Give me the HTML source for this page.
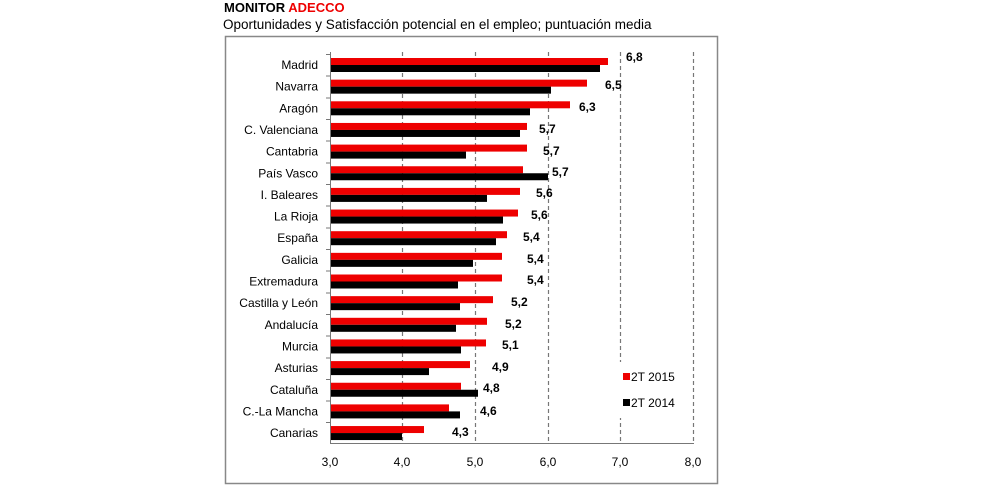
<!DOCTYPE html>
<html><head><meta charset="utf-8"><style>
body{margin:0;background:#fff;width:981px;height:492px;overflow:hidden}
svg{font-family:"Liberation Sans",Arial,sans-serif}
</style></head><body>
<svg width="981" height="492" xmlns="http://www.w3.org/2000/svg">
<text x="224" y="12" font-size="13" font-weight="bold" fill="#000">MONITOR <tspan fill="#e00">ADECCO</tspan></text>
<text x="223" y="29" font-size="13.5" fill="#000">Oportunidades y Satisfacción potencial en el empleo; puntuación media</text>
<rect x="225.5" y="36.5" width="492" height="447" fill="none" stroke="#888" stroke-width="1.5"/>
<g stroke="#777" stroke-dasharray="4,3" stroke-width="1.2">
<line x1="402.5" y1="52" x2="402.5" y2="443"/>
<line x1="475.5" y1="52" x2="475.5" y2="443"/>
<line x1="548.5" y1="52" x2="548.5" y2="443"/>
<line x1="620.5" y1="52" x2="620.5" y2="443"/>
<line x1="693.5" y1="52" x2="693.5" y2="443"/>
</g>
<g fill="#e00">
<rect x="331" y="58" width="277" height="7"/>
<rect x="331" y="79.65" width="256" height="7"/>
<rect x="331" y="101.3" width="239" height="7"/>
<rect x="331" y="122.95" width="196" height="7"/>
<rect x="331" y="144.6" width="196" height="7"/>
<rect x="331" y="166.25" width="192" height="7"/>
<rect x="331" y="187.9" width="189" height="7"/>
<rect x="331" y="209.55" width="187" height="7"/>
<rect x="331" y="231.2" width="176" height="7"/>
<rect x="331" y="252.85" width="171" height="7"/>
<rect x="331" y="274.5" width="171" height="7"/>
<rect x="331" y="296.15" width="162" height="7"/>
<rect x="331" y="317.8" width="156" height="7"/>
<rect x="331" y="339.45" width="155" height="7"/>
<rect x="331" y="361.1" width="139" height="7"/>
<rect x="331" y="382.75" width="130" height="7"/>
<rect x="331" y="404.4" width="118" height="7"/>
<rect x="331" y="426.05" width="93" height="7"/>
</g>
<g fill="#000">
<rect x="331" y="65" width="269" height="7"/>
<rect x="331" y="86.65" width="220" height="7"/>
<rect x="331" y="108.3" width="199" height="7"/>
<rect x="331" y="129.95" width="189" height="7"/>
<rect x="331" y="151.6" width="135" height="7"/>
<rect x="331" y="173.25" width="217" height="7"/>
<rect x="331" y="194.9" width="156" height="7"/>
<rect x="331" y="216.55" width="172" height="7"/>
<rect x="331" y="238.2" width="165" height="7"/>
<rect x="331" y="259.85" width="142" height="7"/>
<rect x="331" y="281.5" width="127" height="7"/>
<rect x="331" y="303.15" width="129" height="7"/>
<rect x="331" y="324.8" width="125" height="7"/>
<rect x="331" y="346.45" width="130" height="7"/>
<rect x="331" y="368.1" width="98" height="7"/>
<rect x="331" y="389.75" width="147" height="7"/>
<rect x="331" y="411.4" width="129" height="7"/>
<rect x="331" y="433.05" width="71" height="7"/>
</g>
<g stroke="#777">
<line x1="326" x2="331" y1="54.5" y2="54.5"/><line x1="326" x2="331" y1="76" y2="76"/><line x1="326" x2="331" y1="98" y2="98"/><line x1="326" x2="331" y1="119.5" y2="119.5"/><line x1="326" x2="331" y1="141" y2="141"/><line x1="326" x2="331" y1="163" y2="163"/><line x1="326" x2="331" y1="184.5" y2="184.5"/><line x1="326" x2="331" y1="206" y2="206"/><line x1="326" x2="331" y1="228" y2="228"/><line x1="326" x2="331" y1="249.5" y2="249.5"/><line x1="326" x2="331" y1="271" y2="271"/><line x1="326" x2="331" y1="293" y2="293"/><line x1="326" x2="331" y1="314.5" y2="314.5"/><line x1="326" x2="331" y1="336" y2="336"/><line x1="326" x2="331" y1="358" y2="358"/><line x1="326" x2="331" y1="379.5" y2="379.5"/><line x1="326" x2="331" y1="401" y2="401"/><line x1="326" x2="331" y1="422.5" y2="422.5"/>
</g>
<g font-size="12" text-anchor="end" fill="#000">
<text x="318" y="69">Madrid</text>
<text x="318" y="90.65">Navarra</text>
<text x="318" y="112.3">Aragón</text>
<text x="318" y="133.95">C. Valenciana</text>
<text x="318" y="155.6">Cantabria</text>
<text x="318" y="177.25">País Vasco</text>
<text x="318" y="198.9">I. Baleares</text>
<text x="318" y="220.55">La Rioja</text>
<text x="318" y="242.2">España</text>
<text x="318" y="263.85">Galicia</text>
<text x="318" y="285.5">Extremadura</text>
<text x="318" y="307.15">Castilla y León</text>
<text x="318" y="328.8">Andalucía</text>
<text x="318" y="350.45">Murcia</text>
<text x="318" y="372.1">Asturias</text>
<text x="318" y="393.75">Cataluña</text>
<text x="318" y="415.4">C.-La Mancha</text>
<text x="318" y="437.05">Canarias</text>
</g>
<g font-size="12" font-weight="bold" fill="#000">
<text x="626" y="61">6,8</text>
<text x="605" y="89">6,5</text>
<text x="579" y="111">6,3</text>
<text x="539" y="133">5,7</text>
<text x="543" y="155">5,7</text>
<text x="552" y="176">5,7</text>
<text x="536" y="197">5,6</text>
<text x="531" y="219">5,6</text>
<text x="523" y="241">5,4</text>
<text x="527" y="263">5,4</text>
<text x="527" y="284">5,4</text>
<text x="511" y="306">5,2</text>
<text x="505" y="328">5,2</text>
<text x="502" y="349">5,1</text>
<text x="492" y="371">4,9</text>
<text x="483" y="392">4,8</text>
<text x="480" y="415">4,6</text>
<text x="452" y="436">4,3</text>
</g>
<line x1="330.5" y1="52" x2="330.5" y2="444" stroke="#777"/>
<line x1="330" y1="443.5" x2="694" y2="443.5" stroke="#777"/>
<g font-size="12" fill="#000" text-anchor="middle">
<text x="330" y="466">3,0</text><text x="402" y="466">4,0</text><text x="475" y="466">5,0</text>
<text x="548" y="466">6,0</text><text x="620" y="466">7,0</text><text x="693" y="466">8,0</text>
</g>
<rect x="612" y="362" width="78" height="56" fill="#fff"/>
<rect x="623" y="373" width="7" height="7" fill="#e00"/>
<text x="631" y="381" font-size="12">2T 2015</text>
<rect x="623" y="399" width="7" height="7" fill="#000"/>
<text x="631" y="407" font-size="12">2T 2014</text>
</svg>
</body></html>
